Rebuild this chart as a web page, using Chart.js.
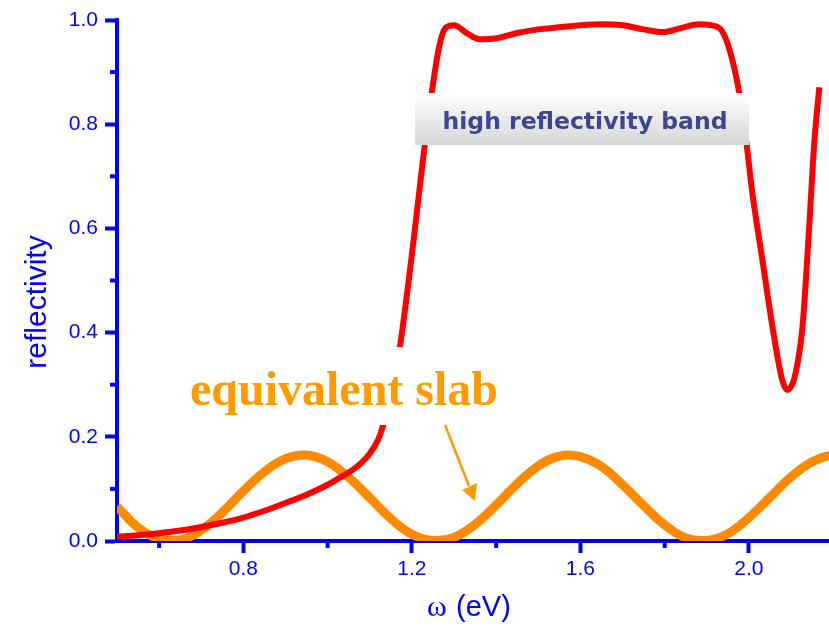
<!DOCTYPE html>
<html>
<head>
<meta charset="utf-8">
<script src="https://cdn.jsdelivr.net/npm/chart.js@4"></script>
<style>
  body { margin: 0; background: #fff; }
  #wrap { width: 829px; height: 629px; position: relative; }
</style>
</head>
<body>
<div id="wrap"><canvas id="refl-canvas"></canvas></div>
<script>
// photonic crystal reflectivity (red)
var crystalX = [0.50, 0.55, 0.60, 0.65, 0.70, 0.75, 0.80, 0.85, 0.90, 0.95, 1.00, 1.03, 1.06, 1.08, 1.10, 1.12, 1.131, 1.15, 1.171, 1.20,
  1.226, 1.247, 1.265, 1.28, 1.30, 1.33, 1.36, 1.40, 1.45, 1.50, 1.55, 1.60, 1.65, 1.70, 1.75, 1.795, 1.84, 1.88, 1.91, 1.935,
  1.955, 1.977, 1.994, 2.008, 2.032, 2.056, 2.079, 2.091, 2.105, 2.115, 2.127, 2.143, 2.155, 2.167];
var crystalY = [0.008, 0.011, 0.015, 0.020, 0.027, 0.035, 0.045, 0.058, 0.073, 0.089, 0.108, 0.122, 0.137, 0.150, 0.168, 0.195, 0.22, 0.28, 0.37, 0.55,
  0.73, 0.86, 0.95, 0.985, 0.99, 0.975, 0.963, 0.965, 0.975, 0.982, 0.986, 0.99, 0.992, 0.99, 0.982, 0.977, 0.985, 0.992, 0.99, 0.98,
  0.94, 0.86, 0.764, 0.668, 0.539, 0.41, 0.309, 0.29, 0.305, 0.34, 0.41, 0.603, 0.764, 0.871];

// equivalent slab (orange)
var slabX = [0.50, 0.55, 0.60, 0.65, 0.70, 0.75, 0.80, 0.85, 0.90, 0.95, 1.00, 1.05, 1.10, 1.15, 1.20, 1.25, 1.30, 1.35,
  1.40, 1.45, 1.50, 1.55, 1.60, 1.65, 1.70, 1.75, 1.80, 1.85, 1.90, 1.95, 2.00, 2.05, 2.10, 2.15, 2.20, 2.25];
var slabY = [0.066, 0.026, 0.004, 0.002, 0.021, 0.055, 0.096, 0.133, 0.158, 0.165, 0.152, 0.122, 0.083, 0.043, 0.013, 0.001, 0.007, 0.032,
  0.069, 0.110, 0.144, 0.163, 0.162, 0.143, 0.108, 0.068, 0.031, 0.006, 0.001, 0.014, 0.045, 0.084, 0.123, 0.152, 0.165, 0.158];

var xMajorTicks = [0.8, 1.2, 1.6, 2.0];
var xMinorTicks = [0.6, 1.0, 1.4, 1.8];
var yMajorTicks = [0.0, 0.2, 0.4, 0.6, 0.8, 1.0];
var yMinorTicks = [0.1, 0.3, 0.5, 0.7, 0.9];

var axisBlue = "#0000FF";

function pairs(xs, ys) {
    return xs.map(function (x, i) { return { x: x, y: ys[i] }; });
}

var decorPlugin = {
    id: "decor",
    afterDraw: function (chart) {
        var ctx = chart.ctx;
        var xs = chart.scales.x, ys = chart.scales.y;
        var area = chart.chartArea;
        ctx.save();

        // minor ticks
        ctx.strokeStyle = axisBlue;
        ctx.lineWidth = 4;
        xMinorTicks.forEach(function (v) {
            var px = xs.getPixelForValue(v);
            ctx.beginPath(); ctx.moveTo(px, area.bottom); ctx.lineTo(px, area.bottom + 7); ctx.stroke();
        });
        yMinorTicks.forEach(function (v) {
            var py = ys.getPixelForValue(v);
            ctx.beginPath(); ctx.moveTo(area.left, py); ctx.lineTo(area.left - 7, py); ctx.stroke();
        });

        // axis titles
        ctx.fillStyle = axisBlue;
        ctx.textBaseline = "middle";
        ctx.textAlign = "center";
        ctx.save();
        ctx.translate(38, 302);
        ctx.rotate(-Math.PI / 2);
        ctx.font = "30px 'Liberation Sans', Arial, sans-serif";
        ctx.fillText("reflectivity", 0, 0);
        ctx.restore();

        ctx.textAlign = "left";
        ctx.textBaseline = "alphabetic";
        ctx.font = "30px 'Liberation Serif', 'Times New Roman', serif";
        ctx.fillText("ω", 427, 616);
        ctx.font = "29px 'Liberation Sans', Arial, sans-serif";
        ctx.fillText("(eV)", 456, 616);

        // white patch behind "equivalent slab"
        ctx.fillStyle = "#ffffff";
        ctx.fillRect(185, 347, 320, 78);
        ctx.fillStyle = "#FF9A00";
        ctx.textAlign = "left";
        ctx.font = "bold 48px 'Liberation Serif', 'Times New Roman', serif";
        ctx.fillText("equivalent slab", 190, 405);

        // arrow
        ctx.strokeStyle = "#FF9900";
        ctx.fillStyle = "#FF9900";
        ctx.lineWidth = 2.5;
        ctx.beginPath(); ctx.moveTo(445, 425); ctx.lineTo(469, 486); ctx.stroke();
        ctx.beginPath(); ctx.moveTo(475, 501); ctx.lineTo(462, 490); ctx.lineTo(477, 483); ctx.closePath(); ctx.fill();

        // high reflectivity band label
        var g = ctx.createLinearGradient(0, 93, 0, 145);
        g.addColorStop(0, "#ffffff");
        g.addColorStop(1, "#d6d6d6");
        ctx.fillStyle = g;
        ctx.fillRect(415, 93, 334, 52);
        ctx.fillStyle = "#3F4590";
        ctx.textAlign = "center";
        ctx.font = "bold 23.5px 'DejaVu Sans', Verdana, sans-serif";
        ctx.fillText("high reflectivity band", 585, 129);

        ctx.restore();
    }
};

var reflChart = new Chart(document.getElementById("refl-canvas"), {
    type: "line",
    data: {
        datasets: [{
            label: "crystal",
            data: pairs(crystalX, crystalY),
            borderColor: "#FF0000",
            borderWidth: 6,
            pointRadius: 0,
            cubicInterpolationMode: "monotone",
            fill: false
        },
        {
            label: "slab",
            data: pairs(slabX, slabY),
            borderColor: "#FF8A00",
            borderWidth: 9,
            pointRadius: 0,
            tension: 0.4,
            fill: false
        }]
    },
    options: {
        responsive: true,
        maintainAspectRatio: false,
        animation: false,
        devicePixelRatio: 1,
        layout: { padding: { top: 20, right: 0, left: 0, bottom: 0 } },
        plugins: { legend: { display: false }, tooltip: { enabled: false } },
        scales: {
            x: {
                type: "linear",
                min: 0.5,
                max: 2.19,
                afterBuildTicks: function (scale) {
                    scale.ticks = xMajorTicks.map(function (v) { return { value: v }; });
                },
                afterFit: function (scale) { scale.height = 88; },
                grid: { display: true, drawOnChartArea: false, drawTicks: true, tickLength: 12, tickWidth: 4, tickColor: axisBlue },
                border: { display: true, color: axisBlue, width: 4 },
                ticks: {
                    color: axisBlue,
                    padding: 4,
                    maxRotation: 0,
                    autoSkip: false,
                    font: { family: "'Liberation Sans', Arial, sans-serif", size: 21 },
                    callback: function (v) { return v.toFixed(1); }
                }
            },
            y: {
                type: "linear",
                min: 0,
                max: 1.0,
                afterBuildTicks: function (scale) {
                    scale.ticks = yMajorTicks.map(function (v) { return { value: v }; });
                },
                afterFit: function (scale) { scale.width = 117; },
                grid: { display: true, drawOnChartArea: false, drawTicks: true, tickLength: 12, tickWidth: 4, tickColor: axisBlue },
                border: { display: true, color: axisBlue, width: 4 },
                ticks: {
                    color: axisBlue,
                    padding: 7,
                    autoSkip: false,
                    font: { family: "'Liberation Sans', Arial, sans-serif", size: 21 },
                    callback: function (v) { return v.toFixed(1); }
                }
            }
        }
    },
    plugins: [decorPlugin]
});
</script>
</body>
</html>
